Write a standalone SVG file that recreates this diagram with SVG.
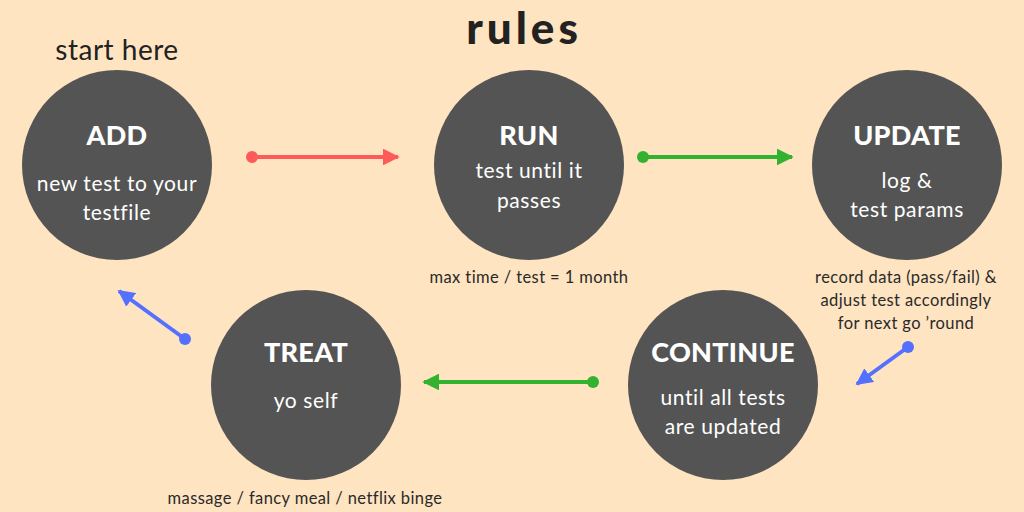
<svg xmlns="http://www.w3.org/2000/svg" width="1024" height="512" viewBox="0 0 1024 512">
<style>
.c{fill:#545454}
.t{font-family:Lato,"Open Sans",sans-serif;font-weight:900;fill:#fff;font-size:27px;text-anchor:middle;letter-spacing:0.3px}
.b{font-family:Lato,"Open Sans",sans-serif;fill:#fff;font-size:21px;text-anchor:middle;letter-spacing:0.6px}
.s{font-family:Lato,"Open Sans",sans-serif;fill:#2a2a2a;font-size:16.5px;text-anchor:middle;letter-spacing:0.4px}
</style>
<defs>
<marker id="ag" viewBox="0 0 10 10" refX="9" refY="5" markerWidth="4.2" markerHeight="4.2" orient="auto" markerUnits="strokeWidth"><path d="M0,0 L10,5 L0,10 z" fill="#33b22f"/></marker>
<marker id="arr" viewBox="0 0 10 10" refX="9" refY="5" markerWidth="4.2" markerHeight="4.2" orient="auto" markerUnits="strokeWidth"><path d="M0,0 L10,5 L0,10 z" fill="#ff5a5a"/></marker>
<marker id="ab" viewBox="0 0 10 10" refX="9" refY="5" markerWidth="4.2" markerHeight="4.2" orient="auto" markerUnits="strokeWidth"><path d="M0,0 L10,5 L0,10 z" fill="#5470ff"/></marker>
</defs>
<rect width="1024" height="512" fill="#fee4c1"/>
<text x="524" y="44" style="font-family:Lato,'Open Sans',sans-serif;font-weight:900;font-size:44px;fill:#222;letter-spacing:4px" text-anchor="middle">rules</text>
<text x="117" y="60" style="font-family:Lato,'Open Sans',sans-serif;font-size:28px;fill:#222;letter-spacing:0.5px" text-anchor="middle">start here</text>
<g id="add"><circle class="c" cx="117" cy="165" r="95"/><text class="t" x="117" y="145">ADD</text><text class="b" x="117" y="191">new test to your</text><text class="b" x="117" y="220">testfile</text></g>
<g id="run"><circle class="c" cx="529" cy="165" r="95"/><text class="t" x="529" y="145">RUN</text><text class="b" x="529" y="178">test until it</text><text class="b" x="529" y="208">passes</text><text class="s" x="529" y="283">max time / test = 1 month</text></g>
<g id="update"><circle class="c" cx="907" cy="165" r="95"/><text class="t" x="907" y="145">UPDATE</text><text class="b" x="907" y="188">log &amp;</text><text class="b" x="907" y="217">test params</text><text class="s" x="906" y="283">record data (pass/fail) &amp;</text><text class="s" x="906" y="306">adjust test accordingly</text><text class="s" x="906" y="329">for next go ʼround</text></g>
<g id="treat"><circle class="c" cx="306" cy="385" r="95"/><text class="t" x="306" y="362">TREAT</text><text class="b" x="306" y="408">yo self</text><text class="s" x="305" y="504">massage / fancy meal / netflix binge</text></g>
<g id="continue"><circle class="c" cx="723" cy="385" r="95"/><text class="t" x="723" y="362">CONTINUE</text><text class="b" x="723" y="405">until all tests</text><text class="b" x="723" y="434">are updated</text></g>
<g id="connectors" stroke-width="4">
<circle cx="252" cy="157" r="6" fill="#ff5a5a"/><line x1="252" y1="157" x2="398" y2="157" stroke="#ff5a5a" marker-end="url(#arr)"/>
<circle cx="643" cy="157" r="6" fill="#33b22f"/><line x1="643" y1="157" x2="792" y2="157" stroke="#33b22f" marker-end="url(#ag)"/>
<circle cx="593" cy="382" r="6" fill="#33b22f"/><line x1="593" y1="382" x2="424" y2="382" stroke="#33b22f" marker-end="url(#ag)"/>
<circle cx="185" cy="339" r="6" fill="#5470ff"/><line x1="185" y1="339" x2="119" y2="291" stroke="#5470ff" marker-end="url(#ab)"/>
<circle cx="908" cy="347" r="6" fill="#5470ff"/><line x1="908" y1="347" x2="857" y2="384" stroke="#5470ff" marker-end="url(#ab)"/>
</g>
</svg>
